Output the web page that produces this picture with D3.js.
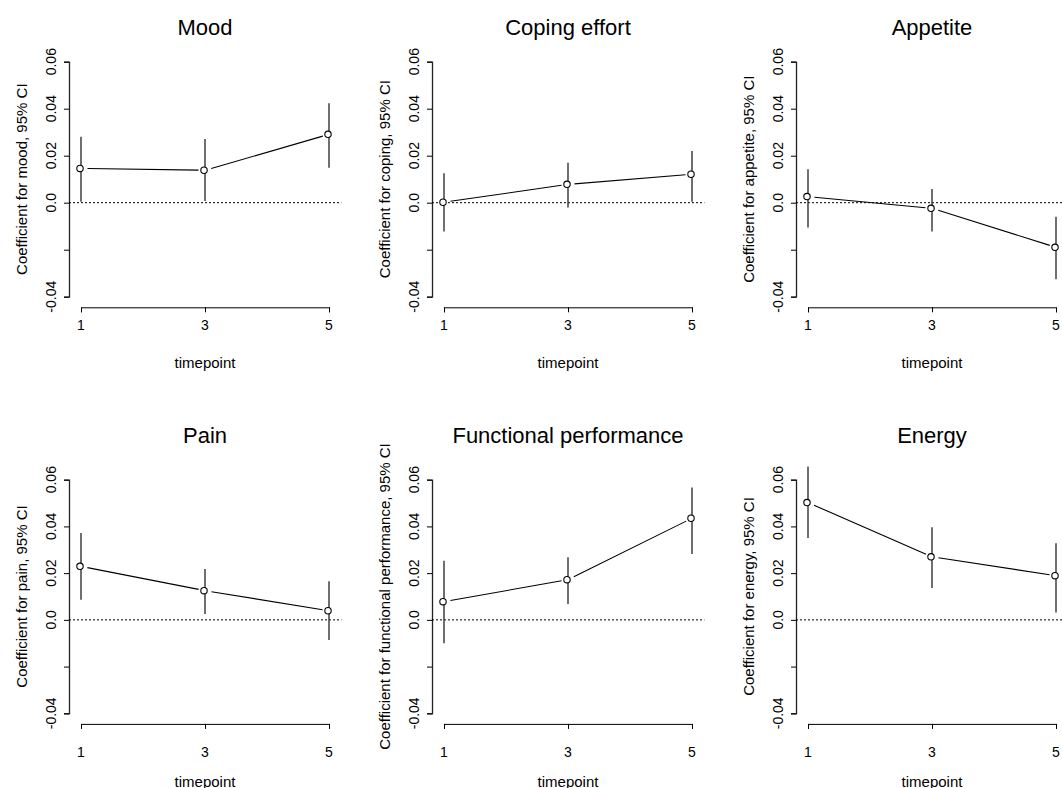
<!DOCTYPE html>
<html>
<head>
<meta charset="utf-8">
<script src="https://cdn.jsdelivr.net/npm/d3@7"></script>
<style>
  body { margin: 0; background: #fff; }
  text { font-family: "Liberation Sans", Arial, sans-serif; fill: #000; }
</style>
</head>
<body>
<svg id="chart" width="1062" height="788"></svg>
<script>
// panel titles and y axis titles
const titles = ['Mood', 'Coping effort', 'Appetite', 'Pain', 'Functional performance', 'Energy']
const yTitles = [
  'Coefficient for mood, 95% CI',
  'Coefficient for coping, 95% CI',
  'Coefficient for appetite, 95% CI',
  'Coefficient for pain, 95% CI',
  'Coefficient for functional performance, 95% CI',
  'Coefficient for energy, 95% CI',
]
const timepoints = [1, 3, 5]
const xTickLabels = ['1', '3', '5']
const yTicks = [0.06, 0.04, 0.02, 0, -0.02, -0.04]
const yTickLabels = ['0.06', '0.04', '0.02', '0.0', '', '-0.04']

// coefficient estimates, one row per panel (timepoint 1, 3, 5)
const estimates = [
  [0.0146, 0.0138, 0.0291],
  [0.0002, 0.0078, 0.0121],
  [0.0026, -0.0024, -0.019],
  [0.0229, 0.0125, 0.0039],
  [0.0078, 0.0172, 0.0435],
  [0.0502, 0.027, 0.0189],
]
// lower and upper 95% CI
const lower = [
  [0.0004, 0.0007, 0.0149],
  [-0.0123, -0.002, 0.0004],
  [-0.0106, -0.0123, -0.0326],
  [0.0086, 0.0025, -0.0086],
  [-0.010, 0.0068, 0.0282],
  [0.035, 0.0136, 0.0032],
]
const upper = [
  [0.0281, 0.0271, 0.0423],
  [0.0125, 0.017, 0.022],
  [0.0142, 0.0058, -0.006],
  [0.0372, 0.0218, 0.0165],
  [0.0253, 0.0268, 0.0567],
  [0.0656, 0.0396, 0.0328],
]

const svg = d3.select('#chart')
svg.append('rect').attr('width', 1062).attr('height', 788).attr('fill', '#fff')

// layout of the two rows and three columns
const colOffset = [0, 363, 727]
const rows = [
  { top: 61.7, bottom: 296.7, title: 27, tick: 325, xlab: 362.7 },
  { top: 479.7, bottom: 713.3, title: 435.7, tick: 752, xlab: 781 },
]

titles.forEach((title, i) => {
  const r = rows[Math.floor(i / 3)]
  const off = colOffset[i % 3]

  const x = d3.scaleLinear().domain([1, 5]).range([81 + off, 329 + off])
  const y = d3.scaleLinear().domain([-0.04, 0.06]).range([r.bottom, r.top])

  const g = svg.append('g')
  const axisX = x(1) - 12
  const axisY = y(-0.04) + 10.6

  // title
  g.append('text')
    .attr('x', x(3))
    .attr('y', r.title)
    .attr('text-anchor', 'middle')
    .attr('dominant-baseline', 'central')
    .attr('font-size', 22)
    .text(title)

  // y axis
  const ya = g.append('g').attr('transform', 'translate(' + axisX + ',0)')
  ya.call(d3.axisLeft(y).tickValues(yTicks).tickSize(5).tickFormat(''))
  ya.select('.domain').attr('stroke', '#222').attr('stroke-width', 1.3)
  ya.selectAll('.tick line').attr('stroke', '#000')

  g.selectAll('.ylab')
    .data(yTicks)
    .enter()
    .append('text')
    .attr('transform', (d) => 'translate(' + (axisX - 18.5) + ',' + y(d) + ')rotate(-90)')
    .attr('text-anchor', 'middle')
    .attr('dominant-baseline', 'central')
    .attr('font-size', 14)
    .text((d, k) => yTickLabels[k])

  g.append('text')
    .attr('transform', 'translate(' + (axisX - 48) + ',' + (y(-0.04) + y(0.06)) / 2 + ')rotate(-90)')
    .attr('text-anchor', 'middle')
    .attr('dominant-baseline', 'central')
    .attr('font-size', 15)
    .text(yTitles[i])

  // x axis
  const xa = g.append('g').attr('transform', 'translate(0,' + axisY + ')')
  xa.call(d3.axisBottom(x).tickValues(timepoints).tickSize(5).tickFormat(''))
  xa.select('.domain').attr('stroke', '#000')

  g.selectAll('.xlab')
    .data(timepoints)
    .enter()
    .append('text')
    .attr('x', (d) => x(d))
    .attr('y', r.tick)
    .attr('text-anchor', 'middle')
    .attr('dominant-baseline', 'central')
    .attr('font-size', 14)
    .text((d, k) => xTickLabels[k])

  g.append('text')
    .attr('x', x(3))
    .attr('y', r.xlab)
    .attr('text-anchor', 'middle')
    .attr('dominant-baseline', 'central')
    .attr('font-size', 15)
    .text('timepoint')

  // zero reference line
  g.append('line')
    .attr('x1', axisX)
    .attr('x2', x(5.2))
    .attr('y1', y(0))
    .attr('y2', y(0))
    .attr('stroke', '#000')
    .attr('stroke-dasharray', '2,2')

  // confidence intervals
  g.selectAll('.ci')
    .data(timepoints)
    .enter()
    .append('line')
    .attr('x1', (d) => x(d))
    .attr('x2', (d) => x(d))
    .attr('y1', (d, k) => y(lower[i][k]))
    .attr('y2', (d, k) => y(upper[i][k]))
    .attr('stroke', '#333')
    .attr('stroke-width', 1.4)

  // connecting segments with gaps around the points (type = "b")
  const pts = timepoints.map((d, k) => [x(d), y(estimates[i][k])])
  const gap = 6.5
  for (let k = 0; k < pts.length - 1; k++) {
    const [x0, y0] = pts[k]
    const [x1, y1] = pts[k + 1]
    const len = Math.hypot(x1 - x0, y1 - y0)
    const ux = (x1 - x0) / len
    const uy = (y1 - y0) / len
    g.append('line')
      .attr('x1', x0 + ux * gap)
      .attr('y1', y0 + uy * gap)
      .attr('x2', x1 - ux * gap)
      .attr('y2', y1 - uy * gap)
      .attr('stroke', '#000')
      .attr('stroke-width', 1.1)
  }

  g.selectAll('.pt')
    .data(pts)
    .enter()
    .append('circle')
    .attr('cx', (d) => d[0] - 1)
    .attr('cy', (d) => d[1])
    .attr('r', 3.2)
    .attr('fill', '#fff')
    .attr('stroke', '#000')
    .attr('stroke-width', 1.1)
})
</script>
</body>
</html>
